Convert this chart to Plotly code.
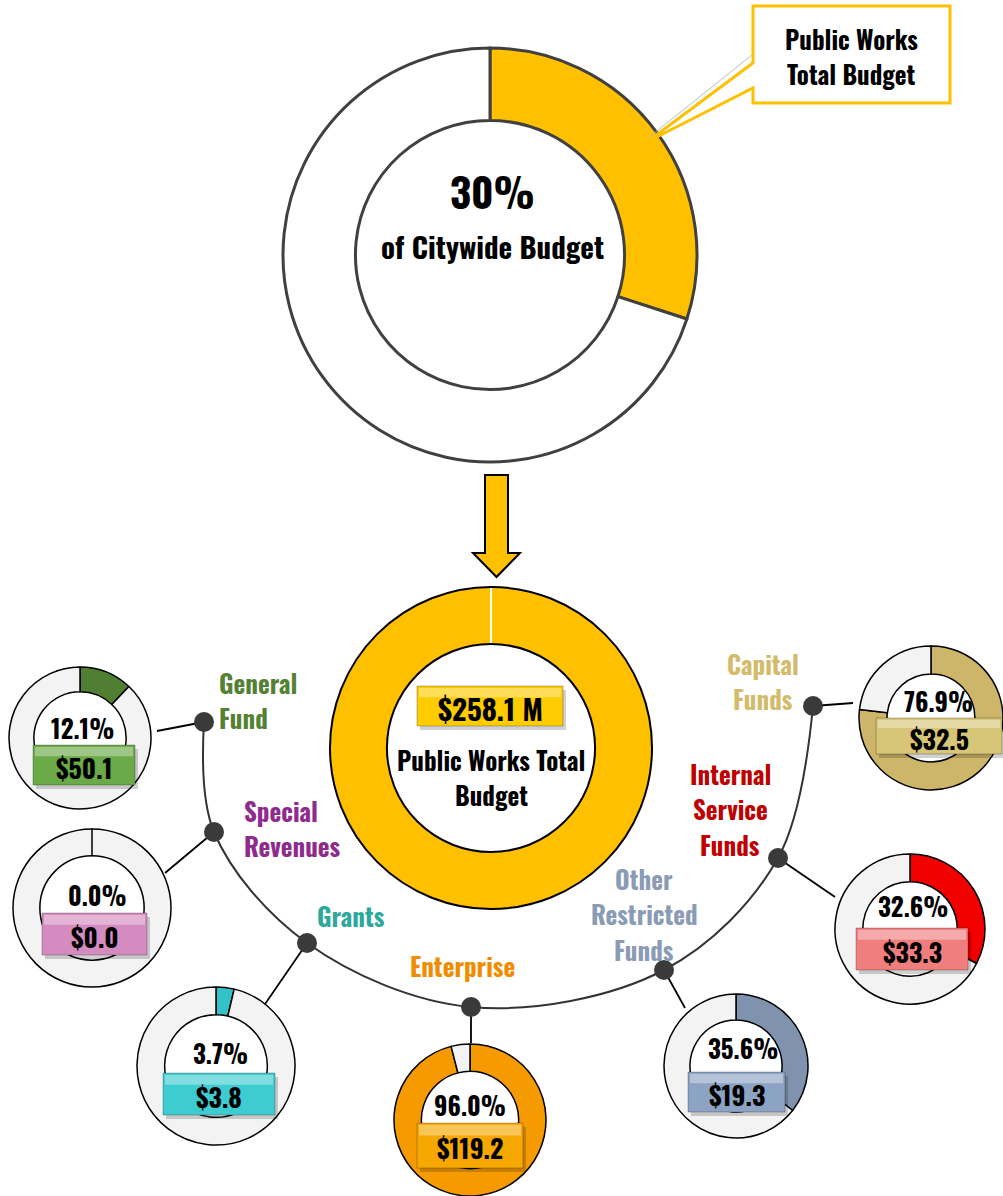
import plotly.graph_objects as go

# ---- data ----
citywide_share = 30            # % of citywide budget
total_budget = 258.1           # $M, Public Works total
fund_names = ["General Fund", "Special Revenues", "Grants", "Enterprise",
              "Other Restricted Funds", "Internal Service Funds", "Capital Funds"]
fund_pct = [12.1, 0.0, 3.7, 96.0, 35.6, 32.6, 76.9]
fund_amount = [50.1, 0.0, 3.8, 119.2, 19.3, 33.3, 32.5]

# ---- styling / layout ----
W, H = 1003, 1196
FONT = "Oswald, Roboto Condensed, Open Sans Condensed, sans-serif"
YEL = "#FFC000"

label_lines = [["General", "Fund"], ["Special", "Revenues"], ["Grants"], ["Enterprise"],
               ["Other", "Restricted", "Funds"], ["Internal", "Service", "Funds"],
               ["Capital", "Funds"]]
label_color = ["#548235", "#8E2C8E", "#2EA89C", "#F08C00", "#8A9BB5", "#C00000", "#D2BC6C"]
slice_color = ["#507E32", "#F3F3F3", "#33C2C8", "#F59A00", "#7F93AF", "#F20000", "#CDB569"]
badge_color = ["#6AAA48", "#D48CC0", "#3DCCCF", "#F6A800", "#8CA3C3", "#F07E7E", "#D8C678"]

# donut centre, outer radius, hole ratio
donut_geo = [(80, 738, 71, 0.65), (92, 908, 79, 0.66), (216, 1066, 79, 0.65),
             (470, 1120, 76, 0.64), (736, 1066, 72, 0.64), (910, 929, 75, 0.63),
             (931, 718, 72, 0.61)]
pct_pos = [(82, 727), (97, 894), (220, 1052), (470, 1104), (743, 1047), (913, 905), (938, 700)]
badge_box = [(33, 745, 135, 785), (42, 913, 147, 955), (163, 1073, 275, 1115),
             (417, 1123, 523, 1168), (688, 1072, 785, 1112), (856, 928, 968, 970),
             (876, 718, 1002, 754)]
dot_pos = [(204, 722), (214, 832), (307, 943), (471, 1007), (664, 970), (778, 858), (813, 706)]
conn_end = [(157, 731), (165, 873), (263, 1007), (471, 1043), (685, 1008), (835, 897), (853, 703)]
label_anchor = [(217, 682, "left"), (242, 810, "left"), (315, 915, "left"),
                (462, 965, "center"), (644, 878, "center"), (730, 773, "center"),
                (763, 663, "center")]
label_step = 35.5


def dom(cx, cy, r):
    return dict(x=[max(0, (cx - r) / W), min(1, (cx + r) / W)],
                y=[max(0, 1 - (cy + r) / H), min(1, 1 - (cy - r) / H)])


fig = go.Figure()
shapes, annots = [], []


def text(x, y, s, size, color="black", align="center"):
    annots.append(dict(x=x, y=y, xref="x", yref="y", text=s, showarrow=False,
                       xanchor=align, yanchor="middle", align=align,
                       font=dict(family=FONT, size=size, color=color, weight="bold")))


def badge(x0, y0, x1, y1, color):
    shapes.append(dict(type="rect", x0=x0 + 3, y0=y0 + 4, x1=x1 + 3, y1=y1 + 4, layer="above",
                       fillcolor="rgba(0,0,0,0.18)", line=dict(width=0)))
    shapes.append(dict(type="rect", x0=x0, y0=y0, x1=x1, y1=y1, layer="above",
                       fillcolor=color, line=dict(color="rgba(0,0,0,0.25)", width=1)))
    shapes.append(dict(type="rect", x0=x0 + 2, y0=y0 + 2, x1=x1 - 2, y1=y0 + (y1 - y0) * 0.28,
                       layer="above", fillcolor="rgba(255,255,255,0.35)", line=dict(width=0)))


# ---- top donut: share of the citywide budget ----
TOP = (490, 255, 207, 0.65)
fig.add_trace(go.Pie(values=[citywide_share, 100 - citywide_share], sort=False,
                     direction="clockwise", rotation=0, hole=TOP[3],
                     marker=dict(colors=[YEL, "white"], line=dict(color="#404040", width=3)),
                     textinfo="none", hoverinfo="skip", showlegend=False,
                     domain=dom(*TOP[:3])))
text(TOP[0] + 2, 190, f"{citywide_share}%", 41)
text(TOP[0] + 2, 245, "of Citywide Budget", 29)

# callout box with pointer
shapes.append(dict(type="line", x0=752, y0=55, x1=648, y1=138, layer="above",
                   line=dict(color="#BBBBBB", width=1)))
shapes.append(dict(type="path", layer="above",
                   path="M753,6 L950,6 L950,103 L753,103 L753,88 L647,142 L753,63 Z",
                   fillcolor="white", line=dict(color=YEL, width=3)))
text(851, 38, "Public Works", 25)
text(851, 73, "Total Budget", 25)

# arrow
shapes.append(dict(type="path", layer="above",
                   path="M485,475 L508,475 L508,553 L520,553 L496.5,577 L473,553 L485,553 Z",
                   fillcolor=YEL, line=dict(color="black", width=2)))

# ---- middle donut: Public Works total ----
MID = (491, 748, 161, 0.646)
fig.add_trace(go.Pie(values=[total_budget], sort=False, direction="clockwise", hole=MID[3],
                     marker=dict(colors=[YEL], line=dict(color="black", width=2)),
                     textinfo="none", hoverinfo="skip", showlegend=False,
                     domain=dom(*MID[:3])))
shapes.append(dict(type="line", x0=MID[0], y0=MID[1] - MID[2] + 1, x1=MID[0],
                   y1=MID[1] - MID[2] * MID[3] - 1, layer="above",
                   line=dict(color="white", width=2)))
badge(417, 686, 563, 726, "#FFCC00")
text(490, 707, f"${total_budget} M", 29)
text(491, 759, "Public Works Total", 25)
text(491, 794, "Budget", 25)

# ---- connecting arc and dots ----
fig.add_trace(go.Scatter(x=[p[0] for p in dot_pos], y=[p[1] for p in dot_pos], mode="lines",
                         line=dict(color="#333333", width=2, shape="spline", smoothing=1.0),
                         hoverinfo="skip", showlegend=False))
for (dx, dy), (ex, ey) in zip(dot_pos, conn_end):
    fig.add_trace(go.Scatter(x=[dx, ex], y=[dy, ey], mode="lines",
                             line=dict(color="black", width=1.8),
                             hoverinfo="skip", showlegend=False))
fig.add_trace(go.Scatter(x=[p[0] for p in dot_pos], y=[p[1] for p in dot_pos], mode="markers",
                         marker=dict(size=20, color="#3A3A3A"),
                         hoverinfo="skip", showlegend=False))

# ---- fund donuts ----
for i, name in enumerate(fund_names):
    cx, cy, r, hole = donut_geo[i]
    p = fund_pct[i]
    fig.add_trace(go.Pie(values=[p, 100 - p], labels=[name, "rest"], sort=False,
                         direction="clockwise", rotation=0, hole=hole,
                         marker=dict(colors=[slice_color[i], "#F3F3F3"],
                                     line=dict(color="black", width=1.5)),
                         textinfo="none", hoverinfo="skip", showlegend=False,
                         domain=dom(cx, cy, r)))
    if p == 0:
        shapes.append(dict(type="line", x0=cx, y0=cy - r, x1=cx, y1=cy - r * hole,
                           layer="above", line=dict(color="black", width=1.5)))
    text(pct_pos[i][0], pct_pos[i][1], f"{p:.1f}%", 25)
    badge(*badge_box[i], badge_color[i])
    bx0, by0, bx1, by1 = badge_box[i]
    text((bx0 + bx1) / 2, (by0 + by1) / 2 + 2, f"${fund_amount[i]:.1f}", 26)
    lx, ly, al = label_anchor[i]
    for k, line in enumerate(label_lines[i]):
        text(lx, ly + k * label_step, line, 25, label_color[i], al)

fig.update_layout(
    width=W, height=H, margin=dict(l=0, r=0, t=0, b=0),
    paper_bgcolor="white", plot_bgcolor="white",
    xaxis=dict(range=[0, W], visible=False, fixedrange=True, domain=[0, 1]),
    yaxis=dict(range=[H, 0], visible=False, fixedrange=True, domain=[0, 1]),
    shapes=shapes, annotations=annots, showlegend=False,
)
fig.write_html("out.html")
